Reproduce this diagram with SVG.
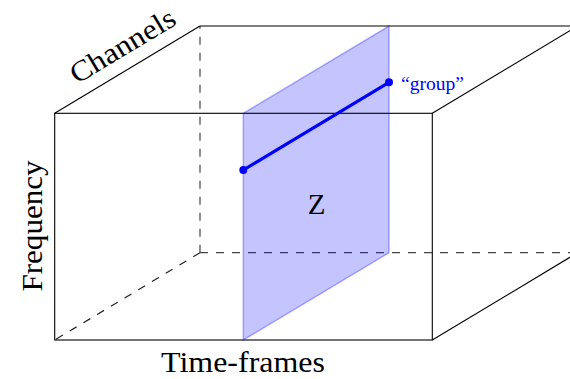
<svg xmlns="http://www.w3.org/2000/svg" width="570" height="379" viewBox="0 0 570 379">
<style>
.edge{fill:none;stroke:#000;stroke-width:1.1}
.hid{fill:none;stroke:#444;stroke-width:1.2;stroke-dasharray:8,8}
.lbl{font-family:"Liberation Serif","Times New Roman",serif;font-size:29px;fill:#000}
</style>
<rect width="570" height="379" fill="#fff"/>
<g id="connectors">
<g id="hidden-edges">
<line class="hid" x1="200" y1="252.7" x2="200" y2="26"/>
<line class="hid" x1="200" y1="252.7" x2="577" y2="252.7"/>
<line class="hid" x1="200" y1="252.7" x2="54.7" y2="340" style="stroke:#222"/>
</g>
<g id="plane">
<polygon points="243.3,113.3 389,26 389,252.7 243.3,340" fill="#0000ff" fill-opacity="0.23" stroke="#0000ff" stroke-opacity="0.3" stroke-width="1.5"/>
</g>
<g id="box-edges">
<rect class="edge" x="54.7" y="113.3" width="377.6" height="226.7"/>
<line class="edge" x1="54.7" y1="113.3" x2="200" y2="26"/>
<line class="edge" x1="200" y1="26" x2="577" y2="26"/>
<line class="edge" x1="432.3" y1="113.3" x2="577.6" y2="26"/>
<line class="edge" x1="432.3" y1="340" x2="577.6" y2="252.7"/>
</g>
</g>
<g id="group">
<line x1="243.3" y1="170" x2="389" y2="82.3" stroke="#0000ff" stroke-width="3.2" stroke-linecap="round"/>
<circle cx="243.3" cy="170" r="4" fill="#0000ff"/>
<circle cx="389" cy="82.3" r="4" fill="#0000ff"/>
<text class="lbl" x="401" y="89.5" style="font-size:18px;fill:#0000ff" textLength="63" lengthAdjust="spacingAndGlyphs">“group”</text>
</g>
<g id="z-label">
<text class="lbl" x="316.7" y="213.5" text-anchor="middle">Z</text>
</g>
<g id="channels">
<text class="lbl" transform="translate(127.5,54) rotate(-31)" text-anchor="middle" textLength="118" lengthAdjust="spacingAndGlyphs">Channels</text>
</g>
<g id="frequency">
<text class="lbl" transform="translate(41.7,226) rotate(-90)" text-anchor="middle" textLength="131" lengthAdjust="spacingAndGlyphs">Frequency</text>
</g>
<g id="time-frames">
<text class="lbl" x="243" y="371.7" text-anchor="middle" textLength="164" lengthAdjust="spacingAndGlyphs">Time-frames</text>
</g>
</svg>
